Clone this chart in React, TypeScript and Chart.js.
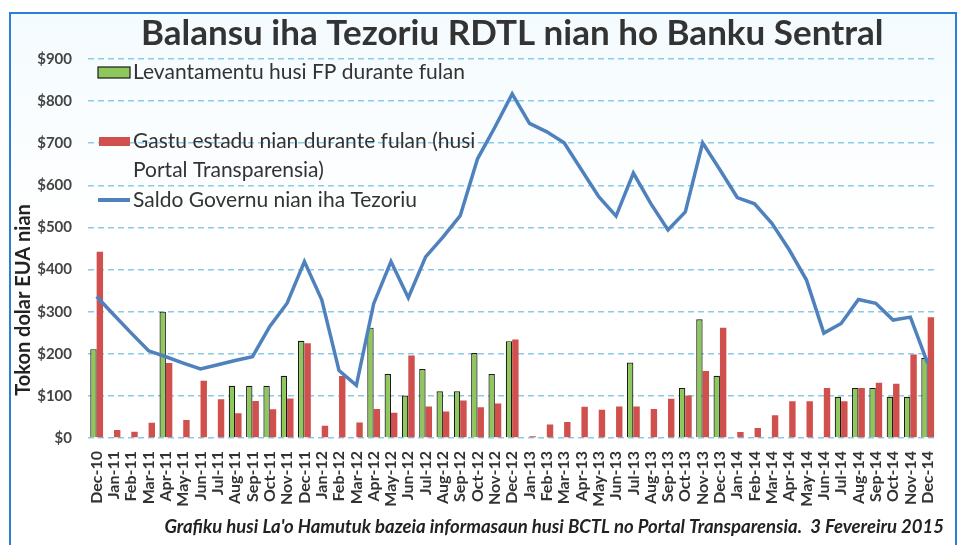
import React, { useEffect, useRef } from 'react';
import { Chart, registerables } from 'chart.js';

Chart.register(...registerables);

const TITLE = 'Balansu iha Tezoriu RDTL nian ho Banku Sentral';
const Y_TITLE = 'Tokon dolar EUA nian';
const FOOTER = "Grafiku husi La'o Hamutuk bazeia informasaun husi BCTL no Portal Transparensia.  3 Fevereiru 2015";
const LEGEND_GREEN = 'Levantamentu husi FP durante fulan';
const LEGEND_RED_1 = 'Gastu estadu nian durante fulan (husi';
const LEGEND_RED_2 = 'Portal Transparensia)';
const LEGEND_LINE = 'Saldo Governu nian iha Tezoriu';

const months = [
  'Dec-10',
  'Jan-11', 'Feb-11', 'Mar-11', 'Apr-11', 'May-11', 'Jun-11', 'Jul-11', 'Aug-11', 'Sep-11', 'Oct-11', 'Nov-11', 'Dec-11',
  'Jan-12', 'Feb-12', 'Mar-12', 'Apr-12', 'May-12', 'Jun-12', 'Jul-12', 'Aug-12', 'Sep-12', 'Oct-12', 'Nov-12', 'Dec-12',
  'Jan-13', 'Feb-13', 'Mar-13', 'Apr-13', 'May-13', 'Jun-13', 'Jul-13', 'Aug-13', 'Sep-13', 'Oct-13', 'Nov-13', 'Dec-13',
  'Jan-14', 'Feb-14', 'Mar-14', 'Apr-14', 'May-14', 'Jun-14', 'Jul-14', 'Aug-14', 'Sep-14', 'Oct-14', 'Nov-14', 'Dec-14',
];

const levantamentu = [
  211,
  null, null, null, 300, null, null, null, 124, 124, 124, 148, 231,
  null, null, null, 262, 152, 101, 164, 111, 111, 202, 152, 230,
  null, null, null, null, null, null, 179, null, null, 119, 282, 148,
  null, null, null, null, null, null, 98, 119, 119, 98, 98, 190,
];

const gastu = [
  442,
  19, 15, 36, 178, 43, 136, 92, 59, 88, 68, 94, 225,
  29, 147, 37, 69, 60, 196, 75, 63, 89, 73, 82, 234,
  4, 32, 38, 74, 67, 75, 75, 69, 93, 101, 159, 262,
  14, 24, 54, 87, 87, 119, 87, 119, 131, 129, 198, 287,
];

const saldo = [
  336,
  292, 249, 207, 193, 178, 164, 174, 184, 193, 265, 320, 419,
  328, 160, 125, 319, 419, 333, 430, 477, 528, 663, 738, 817,
  747, 727, 701, 637, 573, 527, 629, 557, 494, 537, 701, 637,
  571, 556, 510, 447, 375, 249, 272, 329, 320, 280, 287, 177,
];

const Y_MIN = 0;
const Y_MAX = 900;
const Y_STEP = 100;

const GREEN = '#8fc85a';
const RED = '#d0504d';
const BLUE = '#4f81bd';
const FONT = 'Lato, "Open Sans", sans-serif';

const overlayPlugin = {
  id: 'overlay',
  afterDraw(chart: any) {
    const { ctx, chartArea } = chart;
    const left = chartArea.left;
    ctx.save();
    // title
    ctx.fillStyle = '#333333';
    ctx.font = `bold 35px ${FONT}`;
    ctx.textAlign = 'center';
    ctx.textBaseline = 'middle';
    ctx.fillText(TITLE, (chartArea.left + chartArea.right) / 2, 34);

    // y title
    ctx.save();
    ctx.translate(24, 300);
    ctx.rotate(-Math.PI / 2);
    ctx.font = `bold 20px ${FONT}`;
    ctx.fillStyle = '#222222';
    ctx.fillText(Y_TITLE, 0, 0);
    ctx.restore();

    // legend
    ctx.textAlign = 'left';
    ctx.font = `21px ${FONT}`;
    const bx = left + 10;
    // green box
    ctx.fillStyle = GREEN;
    ctx.fillRect(bx, 67, 32, 11);
    ctx.strokeStyle = '#1a1a1a';
    ctx.lineWidth = 1.2;
    ctx.strokeRect(bx, 67, 32, 11);
    ctx.fillStyle = '#333333';
    ctx.fillText(LEGEND_GREEN, bx + 35, 72);
    // red box
    ctx.fillStyle = RED;
    ctx.fillRect(bx + 1, 137, 31, 9);
    ctx.fillStyle = '#333333';
    ctx.fillText(LEGEND_RED_1, bx + 35, 141);
    ctx.fillText(LEGEND_RED_2, bx + 35, 170);
    // line
    ctx.strokeStyle = BLUE;
    ctx.lineWidth = 4;
    ctx.beginPath();
    ctx.moveTo(bx, 200);
    ctx.lineTo(bx + 32, 200);
    ctx.stroke();
    ctx.fillText(LEGEND_LINE, bx + 35, 200);

    // footer
    ctx.textAlign = 'right';
    ctx.font = `italic bold 18.5px ${FONT}`;
    ctx.fillStyle = '#222222';
    ctx.fillText(FOOTER, 944, 527);
    ctx.restore();
  },
};

export default function App() {
  const ref = useRef<HTMLCanvasElement | null>(null);

  useEffect(() => {
    if (!ref.current) return;
    const chart = new Chart(ref.current, {
      type: 'bar',
      data: {
        labels: months,
        datasets: [
          {
            type: 'bar',
            label: LEGEND_GREEN,
            data: levantamentu,
            backgroundColor: GREEN,
            borderColor: '#1a1a1a',
            borderWidth: 1.2,
            barPercentage: 1,
            categoryPercentage: 0.74,
            order: 2,
          },
          {
            type: 'bar',
            label: LEGEND_RED_1 + ' ' + LEGEND_RED_2,
            data: gastu,
            backgroundColor: RED,
            borderWidth: 0,
            barPercentage: 1,
            categoryPercentage: 0.74,
            order: 2,
          },
          {
            type: 'line',
            label: LEGEND_LINE,
            data: saldo,
            borderColor: BLUE,
            borderWidth: 3.5,
            pointRadius: 0,
            tension: 0,
            fill: false,
            order: 0,
          } as any,
        ],
      },
      options: {
        responsive: false,
        animation: false,
        devicePixelRatio: 1,
        layout: { padding: { left: 10, right: 10, top: 59, bottom: 0 } },
        plugins: {
          legend: { display: false },
          title: { display: false },
          tooltip: { enabled: false },
        },
        scales: {
          x: {
            grid: { display: false, drawTicks: false },
            border: { display: false },
            ticks: {
              autoSkip: false,
              minRotation: 90,
              maxRotation: 90,
              padding: 13,
              color: '#333333',
              font: { family: FONT, size: 16, weight: 'bold' },
            },
            afterFit: (scale: any) => {
              scale.height = 107;
            },
          },
          y: {
            min: Y_MIN,
            max: Y_MAX,
            ticks: {
              stepSize: Y_STEP,
              padding: 16,
              color: '#444444',
              font: { family: FONT, size: 15, weight: 'bold' },
              callback: (v: any) => '$' + v,
            },
            grid: { color: '#8ccbe6', lineWidth: 1.5, drawTicks: false },
            border: { display: false, dash: [6, 4] },
            afterFit: (scale: any) => {
              scale.width = 78;
            },
          },
        },
      },
      plugins: [overlayPlugin],
    } as any);
    return () => chart.destroy();
  }, []);

  return (
    <div style={{ position: 'absolute', left: 0, top: 0, width: 960, height: 545, overflow: 'hidden', background: '#ffffff' }}>
      <div
        style={{
          position: 'absolute',
          left: 9,
          top: 12,
          width: 948,
          height: 540,
          boxSizing: 'border-box',
          borderTop: '2px solid #2b7fd6',
          borderLeft: '2px solid #2b7fd6',
          borderRight: '2px solid #2b7fd6',
          background: 'linear-gradient(to bottom, #f4fbfe 0%, #ffffff 40%)',
        }}
      />
      <canvas ref={ref} width={960} height={545} style={{ position: 'absolute', left: 0, top: 0, width: 960, height: 545 }} />
    </div>
  );
}
